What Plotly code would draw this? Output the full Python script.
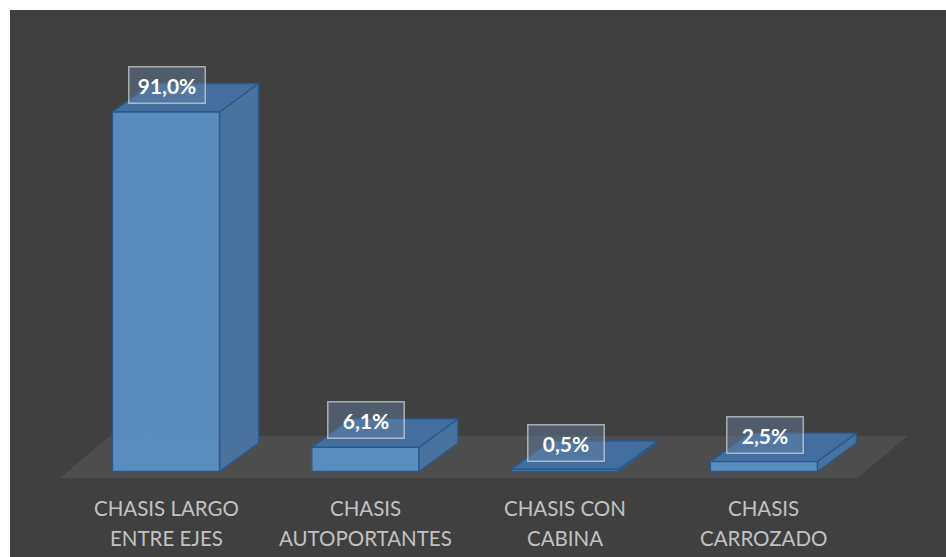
import plotly.graph_objects as go

# Chart data
categories = ["CHASIS LARGO\nENTRE EJES", "CHASIS\nAUTOPORTANTES", "CHASIS CON\nCABINA", "CHASIS\nCARROZADO"]
values = [91.0, 6.1, 0.5, 2.5]
value_labels = ["91,0%", "6,1%", "0,5%", "2,5%"]

# Styling / geometry of the pseudo-3D columns
W, H = 946, 557
PX_PER_CAT = 199.3          # pixels between category centres
PX_PER_PCT = 3.95           # pixels per percentage point
ZERO_PX_X = 166.0           # pixel x of first category centre
ZERO_PX_Y = 471.5           # pixel y of the 0 % baseline

half_w = 0.2685             # half bar width (category units)
depth_dx = 39 / PX_PER_CAT  # receding depth, x
depth_dy = 28.5 / PX_PER_PCT  # receding depth, y

FRONT = "rgba(91,145,199,0.93)"
SIDE = "#48739f"
TOP = "#426f9f"
EDGE = "#2a5a8b"
INNER = "rgba(120,170,220,0.5)"

BG = "#404040"
FLOOR = "#4d4d4d"
TEXT = "#c2c2c2"

x_range = [-ZERO_PX_X / PX_PER_CAT, (W - ZERO_PX_X) / PX_PER_CAT]
y_range = [(ZERO_PX_Y - H) / PX_PER_PCT, ZERO_PX_Y / PX_PER_PCT]

fig = go.Figure()

# Floor slab under the columns
floor_front_y = -6.5 / PX_PER_PCT
floor_left, floor_right = -0.532, 3.469
floor_dx, floor_dy = 50 / PX_PER_CAT, 42 / PX_PER_PCT
fig.add_trace(go.Scatter(
    x=[floor_left, floor_right, floor_right + floor_dx, floor_left + floor_dx, floor_left],
    y=[floor_front_y, floor_front_y, floor_front_y + floor_dy, floor_front_y + floor_dy, floor_front_y],
    mode="lines", fill="toself", fillcolor=FLOOR, line=dict(width=0),
    hoverinfo="skip", showlegend=False,
))


def poly(xs, ys, fill, line_color=EDGE, width=1.4):
    fig.add_trace(go.Scatter(
        x=xs + [xs[0]], y=ys + [ys[0]], mode="lines", fill="toself",
        fillcolor=fill, line=dict(color=line_color, width=width),
        hoverinfo="skip", showlegend=False,
    ))


for i, v in enumerate(values):
    l, r = i - half_w, i + half_w
    # hidden back edges, seen through the translucent front
    fig.add_trace(go.Scatter(
        x=[l, l + depth_dx, r + depth_dx, None, l + depth_dx, l + depth_dx],
        y=[0, depth_dy, depth_dy, None, depth_dy, v + depth_dy],
        mode="lines", line=dict(color=INNER, width=1.2),
        hoverinfo="skip", showlegend=False,
    ))
    # right side face
    poly([r, r + depth_dx, r + depth_dx, r], [0, depth_dy, v + depth_dy, v], SIDE)
    # top face
    poly([l, r, r + depth_dx, l + depth_dx], [v, v, v + depth_dy, v + depth_dy], TOP)
    # front face
    poly([l, r, r, l], [0, 0, v, v], FRONT)

annotations = []
for i, (v, txt) in enumerate(zip(values, value_labels)):
    annotations.append(dict(
        x=i + 0.005, y=v + depth_dy - 0.4, xref="x", yref="y",
        text=txt, showarrow=False,
        font=dict(family="Lato", size=21, color="white", weight="bold"),
        bgcolor="rgba(105,130,165,0.42)", bordercolor="rgba(225,225,225,0.65)",
        borderwidth=1.5, borderpad=0, width=75, height=35,
        xanchor="center", yanchor="middle",
    ))

# Category labels, two lines each
line_y = [(ZERO_PX_Y - 508) / PX_PER_PCT, (ZERO_PX_Y - 538) / PX_PER_PCT]
for i, cat in enumerate(categories):
    for k, part in enumerate(cat.split("\n")):
        annotations.append(dict(
            x=i, y=line_y[k], xref="x", yref="y", text=part, showarrow=False,
            font=dict(family="Lato", size=20.5, color=TEXT),
            xanchor="center", yanchor="middle",
        ))

fig.update_layout(
    width=W, height=H,
    margin=dict(l=0, r=0, t=0, b=0),
    paper_bgcolor="white", plot_bgcolor="rgba(0,0,0,0)",
    xaxis=dict(range=x_range, visible=False, fixedrange=True),
    yaxis=dict(range=y_range, visible=False, fixedrange=True),
    shapes=[dict(type="rect", xref="paper", yref="paper",
                 x0=10 / W, x1=1, y0=0, y1=(H - 10) / H,
                 fillcolor=BG, line=dict(width=0), layer="below")],
    annotations=annotations,
    hovermode=False,
    showlegend=False,
)

fig.write_html("out.html")
